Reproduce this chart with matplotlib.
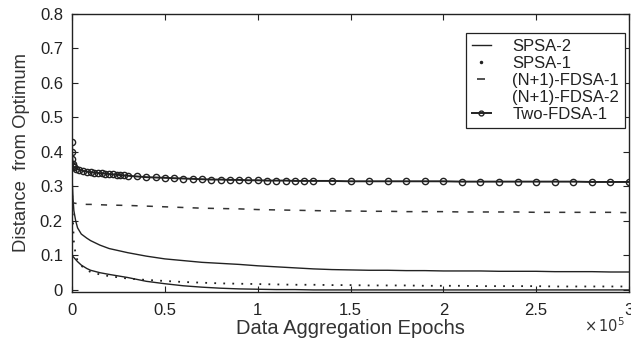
import matplotlib
matplotlib.use("Agg")
import matplotlib.pyplot as plt
from matplotlib.ticker import FixedLocator
from matplotlib.lines import Line2D
import numpy as np

plt.rcParams['font.family'] = ['Liberation Sans', 'DejaVu Sans']

# x positions in units of 1e5 epochs
epochs = [0, 0.005, 0.01, 0.02, 0.03, 0.05, 0.08, 0.1, 0.15, 0.2, 0.3, 0.4, 0.5,
          0.6, 0.7, 0.8, 0.9, 1.0, 1.1, 1.2, 1.3, 1.4, 1.5, 1.6, 1.7, 1.8, 1.9,
          2.0, 2.1, 2.2, 2.3, 2.4, 2.5, 2.6, 2.7, 2.8, 2.9, 3.0]

spsa2 = [0.33, 0.27, 0.23, 0.20, 0.18, 0.162, 0.15, 0.143, 0.13, 0.12, 0.108, 0.098, 0.09,
         0.085, 0.080, 0.077, 0.074, 0.070, 0.067, 0.064, 0.061, 0.059, 0.058, 0.057, 0.057, 0.056, 0.056,
         0.055, 0.055, 0.055, 0.054, 0.054, 0.054, 0.053, 0.053, 0.053, 0.052, 0.052]

spsa1 = [0.30, 0.20, 0.14, 0.10, 0.085, 0.07, 0.058, 0.052, 0.045, 0.04, 0.033, 0.029, 0.026,
         0.023, 0.021, 0.019, 0.018, 0.017, 0.016, 0.015, 0.015, 0.014, 0.014, 0.013, 0.013, 0.013, 0.012,
         0.012, 0.012, 0.011, 0.011, 0.011, 0.011, 0.010, 0.010, 0.010, 0.010, 0.010]

fdsa1 = [0.26, 0.255, 0.252, 0.251, 0.25, 0.249, 0.248, 0.248, 0.247, 0.246, 0.245, 0.243, 0.241,
         0.239, 0.237, 0.236, 0.235, 0.233, 0.232, 0.231, 0.230, 0.229, 0.229, 0.228, 0.228, 0.227, 0.227,
         0.227, 0.226, 0.226, 0.226, 0.226, 0.225, 0.225, 0.225, 0.225, 0.225, 0.224]

fdsa2 = [0.10, 0.097, 0.094, 0.088, 0.082, 0.072, 0.062, 0.057, 0.050, 0.045, 0.036, 0.025, 0.018,
         0.012, 0.008, 0.005, 0.003, 0.002, 0.001, 0.001, 0.0, 0.0, 0.0, 0.0, 0.0, 0.0, 0.0,
         0.0, 0.0, 0.0, 0.0, 0.0, 0.0, 0.0, 0.0, 0.0, 0.0, 0.0]

# Two-FDSA-1 was sampled more densely
epochs_two = [0, 0.001, 0.002, 0.004, 0.006, 0.01, 0.02, 0.04, 0.06, 0.08, 0.1, 0.12, 0.14,
              0.16, 0.18, 0.2, 0.22, 0.24, 0.26, 0.28, 0.3, 0.35, 0.4, 0.45, 0.5, 0.55, 0.6,
              0.65, 0.7, 0.75, 0.8, 0.85, 0.9, 0.95, 1.0, 1.05, 1.1, 1.15, 1.2, 1.25, 1.3,
              1.4, 1.5, 1.6, 1.7, 1.8, 1.9, 2.0, 2.1, 2.2, 2.3, 2.4, 2.5, 2.6, 2.7, 2.8, 2.9, 3.0]
two_fdsa1 = [0.43, 0.40, 0.38, 0.365, 0.36, 0.356, 0.352, 0.348, 0.345, 0.343, 0.341, 0.340, 0.339,
             0.338, 0.337, 0.336, 0.335, 0.334, 0.333, 0.332, 0.331, 0.329, 0.327, 0.326, 0.325, 0.324, 0.323,
             0.322, 0.321, 0.320, 0.320, 0.319, 0.319, 0.318, 0.318, 0.317, 0.317, 0.317, 0.316, 0.316, 0.316,
             0.316, 0.315, 0.315, 0.315, 0.315, 0.315, 0.315, 0.314, 0.314, 0.314, 0.314, 0.314, 0.314, 0.314, 0.313, 0.313, 0.313]

labels = ['SPSA-2', 'SPSA-1', '(N+1)-FDSA-1', '(N+1)-FDSA-2', 'Two-FDSA-1']
xticks = [0, 0.5, 1, 1.5, 2, 2.5, 3]
yticks = [0, 0.1, 0.2, 0.3, 0.4, 0.5, 0.6, 0.7, 0.8]

x = np.array(epochs) * 1e5
x_two = np.array(epochs_two) * 1e5

fig = plt.figure(figsize=(6.31, 3.47), dpi=100)
ax = fig.add_axes([72/631, 1 - 292/347, (629 - 72)/631, (292 - 14)/347])

ax.plot(x, spsa2, color='#222222', lw=1.0)
ax.plot(x, spsa1, color='#222222', lw=1.3, linestyle=(0, (1, 4)))
ax.plot(x, fdsa1, color='#333333', lw=1.1, linestyle=(0, (4, 6)))
ax.plot(x, fdsa2, color='#222222', lw=1.0)
ax.plot(x_two, two_fdsa1, color='#222222', lw=1.4, marker='o', markersize=4.5,
        markerfacecolor='none', markeredgewidth=1.0)

ax.set_xlim(0, 3e5)
ax.set_ylim(-0.006, 0.8)
ax.xaxis.set_major_locator(FixedLocator(np.array(xticks) * 1e5))
ax.yaxis.set_major_locator(FixedLocator(yticks))
ax.set_yticklabels(['0', '0.1', '0.2', '0.3', '0.4', '0.5', '0.6', '0.7', '0.8'])
ax.set_xticklabels(['0', '0.5', '1', '1.5', '2', '2.5', '3'])
ax.tick_params(direction='in', top=True, right=True, length=4, width=0.8,
               labelsize=12, colors='#222222')
ax.tick_params(axis='x', pad=8)
ax.tick_params(axis='y', pad=6.5)
for s in ax.spines.values():
    s.set_linewidth(1.0)
    s.set_color('#222222')

ax.set_ylabel('Distance  from Optimum', fontsize=13.3, color='#333333', labelpad=7)
ax.set_xlabel('Data Aggregation Epochs', fontsize=14.5, color='#333333', labelpad=1)
fig.text(0.99, 0.035, r'$\times\,10^5$', ha='right', va='bottom', fontsize=10.5,
         color='#333333', family='DejaVu Serif')

handles = [
    Line2D([], [], color='#222222', lw=1.0),
    Line2D([], [], color='#222222', linestyle='none', marker='.', markersize=3),
    Line2D([], [], color='#333333', linestyle='none', marker='_', markersize=6, markeredgewidth=1.2),
    Line2D([], [], color='none', linestyle='none'),
    Line2D([], [], color='#222222', lw=1.4, marker='o', markersize=3.5,
           markerfacecolor='none', markeredgewidth=1.0),
]
leg = ax.legend(handles, labels, loc='upper right',
                bbox_to_anchor=((625 - 72) / (629 - 72), 1 - (33 - 14) / (292 - 14)),
                bbox_transform=ax.transAxes, fontsize=12, frameon=True, fancybox=False,
                edgecolor='#222222', framealpha=1, handlelength=1.1, handletextpad=1.3,
                labelspacing=0.12, borderpad=0.35, borderaxespad=0.0)
leg.get_frame().set_linewidth(0.9)
for t in leg.get_texts():
    t.set_color('#222222')

fig.savefig('out.png', dpi=100)
